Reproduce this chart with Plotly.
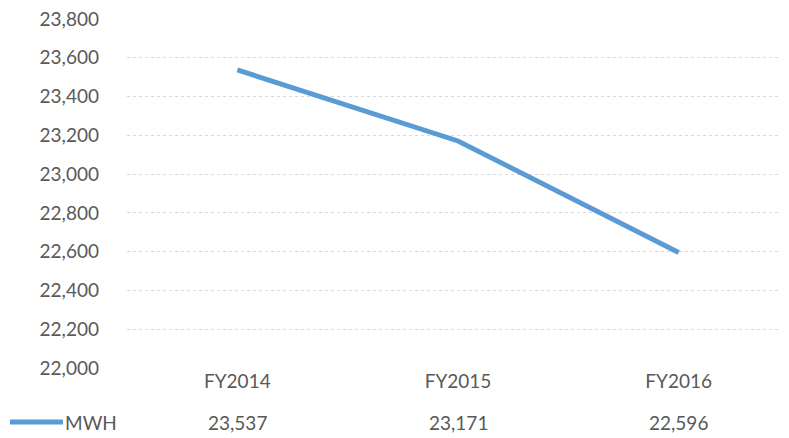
import plotly.graph_objects as go

categories = ["FY2014", "FY2015", "FY2016"]
mwh = [23537, 23171, 22596]
series_name = "MWH"
value_labels = ["23,537", "23,171", "22,596"]
y_ticks = list(range(22000, 23801, 200))

FONT = "Lato"
TXT = "#595959"
BLUE = "#5b9bd5"

fig = go.Figure()
fig.add_trace(go.Scatter(x=categories, y=mwh, mode="lines", name=series_name,
                         line=dict(color=BLUE, width=5), showlegend=False))

# data table values row
for c, v in zip(categories, value_labels):
    fig.add_annotation(x=c, xref="x", y=0, yref="paper", yshift=-54, yanchor="middle",
                       text=v, showarrow=False, font=dict(family=FONT, size=19, color=TXT))

# legend key in data table
fig.add_shape(type="line", xref="paper", yref="paper",
              x0=-117/662, x1=-64/662, y0=-54/349, y1=-54/349,
              line=dict(color=BLUE, width=5))
fig.add_annotation(x=-64/662, xref="paper", y=0, yref="paper", yshift=-54, xanchor="left",
                   yanchor="middle", text=series_name, showarrow=False,
                   font=dict(family=FONT, size=19, color=TXT))

fig.update_layout(
    width=781, height=430,
    margin=dict(l=119, r=0, t=11, b=70),
    paper_bgcolor="white", plot_bgcolor="white",
    font=dict(family=FONT, size=19, color=TXT),
    xaxis=dict(type="category", categoryorder="array", categoryarray=categories,
               range=[-0.5, 2.5], showgrid=False, zeroline=False, showline=False,
               ticks="", tickfont=dict(family=FONT, size=19, color=TXT)),
    yaxis=dict(range=[22000, 23800], tickvals=y_ticks, tickformat=",d",
               showgrid=True, gridcolor="#d9d9d9", griddash="dot", gridwidth=1,
               zeroline=False, showline=False, ticks="", ticklabelstandoff=27,
               ticklabeloverflow="allow",
               tickfont=dict(family=FONT, size=19, color=TXT)),
    showlegend=False,
)

fig.write_html("out.html")
